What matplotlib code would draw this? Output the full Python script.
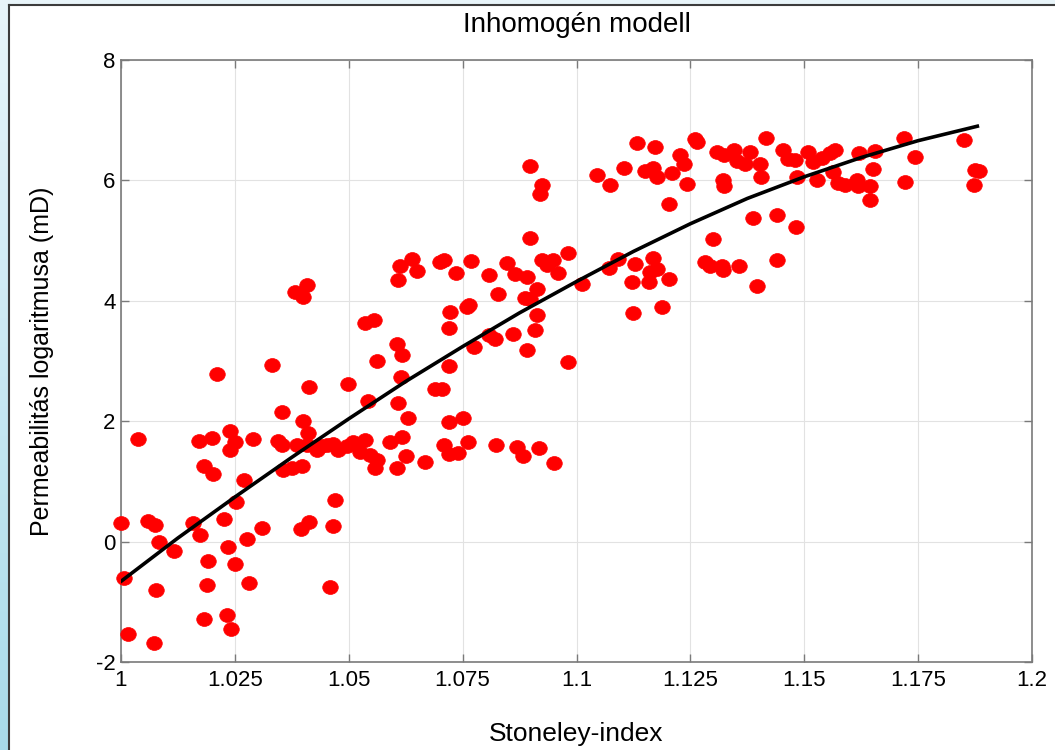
import numpy as np
import matplotlib.pyplot as plt
from matplotlib.markers import MarkerStyle
from matplotlib.transforms import Affine2D
from matplotlib.lines import Line2D

plt.rcParams['font.family'] = ['Liberation Sans', 'DejaVu Sans']
plt.rcParams['axes.unicode_minus'] = False

# Stoneley-index vs. log permeability (mD), measured samples
stoneley = [
    1.0001, 1.0007, 1.0038, 1.0016, 1.0059, 1.0075, 1.0084, 1.0116, 1.0076, 1.0072,
    1.0159, 1.0173, 1.0171, 1.0199, 1.0182, 1.0201, 1.0190, 1.0188, 1.0183, 1.0210,
    1.0239, 1.0250, 1.0239, 1.0226, 1.0234, 1.0250, 1.0232, 1.0242, 1.0270, 1.0252,
    1.0290, 1.0277, 1.0280, 1.0310,
    1.0332, 1.0353, 1.0413, 1.0499, 1.0400, 1.0410, 1.0345, 1.0353, 1.0355, 1.0375,
    1.0397, 1.0386, 1.0408, 1.0430, 1.0452, 1.0477, 1.0496, 1.0510, 1.0413, 1.0395,
    1.0470, 1.0466, 1.0459, 1.0525, 1.0382, 1.0408, 1.0399, 1.0536, 1.0556, 1.0563,
    1.0542, 1.0536, 1.0547, 1.0561, 1.0558, 1.0440, 1.0465,
    1.0607, 1.0616, 1.0614, 1.0609, 1.0631, 1.0591, 1.0616, 1.0626, 1.0607, 1.0667,
    1.0613, 1.0638, 1.0649, 1.0609, 1.0700, 1.0709, 1.0735, 1.0768, 1.0808, 1.0847,
    1.0865, 1.0892, 1.0924, 1.0949, 1.0935, 1.0960, 1.0982, 1.1013, 1.0828, 1.0887,
    1.0898, 1.0914, 1.0913, 1.0909, 1.0891, 1.0861, 1.0808, 1.0821, 1.0774, 1.0759,
    1.0763, 1.0722, 1.0719, 1.0721, 1.0982, 1.0689, 1.0704, 1.0719, 1.0751, 1.0709,
    1.0719, 1.0740, 1.0762, 1.0823, 1.0869, 1.0883, 1.0918, 1.0951, 1.0898, 1.0924,
    1.0919, 1.0898,
    1.1046, 1.1074, 1.1105, 1.1132, 1.1172, 1.1150, 1.1167, 1.1176, 1.1209, 1.1227,
    1.1236, 1.1243, 1.1260, 1.1264, 1.1204, 1.1308, 1.1323, 1.1345, 1.1352, 1.1370,
    1.1381, 1.1403, 1.1404, 1.1321, 1.1324, 1.1415, 1.1454, 1.1465, 1.1480, 1.1483,
    1.1509, 1.1520, 1.1538, 1.1557, 1.1568, 1.1527, 1.1564, 1.1575, 1.1388, 1.1440,
    1.1481, 1.1299, 1.1282, 1.1293, 1.1319, 1.1322, 1.1357, 1.1441, 1.1397, 1.1092,
    1.1072, 1.1128, 1.1167, 1.1176, 1.1161, 1.1121, 1.1160, 1.1204, 1.1125, 1.1188,
    1.1590, 1.1615, 1.1619, 1.1644, 1.1621, 1.1655, 1.1652, 1.1644, 1.1718, 1.1743,
    1.1721, 1.1851, 1.1875, 1.1884, 1.1873,
]
log_perm = [
    0.31, -0.60, 1.70, -1.53, 0.35, 0.28, 0.00, -0.15, -0.80, -1.68,
    0.31, 0.11, 1.67, 1.72, 1.26, 1.13, -0.32, -0.72, -1.28, 2.78,
    1.83, 1.66, 1.52, 0.37, -0.09, -0.37, -1.22, -1.46, 1.02, 0.66,
    1.70, 0.05, -0.68, 0.23,
    2.93, 2.16, 2.56, 2.62, 2.00, 1.80, 1.67, 1.60, 1.19, 1.22,
    1.26, 1.60, 1.60, 1.52, 1.60, 1.52, 1.58, 1.66, 0.33, 0.21,
    0.69, 0.26, -0.76, 1.49, 4.15, 4.26, 4.06, 3.63, 3.68, 3.00,
    2.34, 1.69, 1.44, 1.36, 1.22, 1.58, 1.62,
    3.29, 3.10, 2.74, 2.31, 2.05, 1.66, 1.73, 1.42, 1.22, 1.33,
    4.57, 4.69, 4.50, 4.35, 4.65, 4.68, 4.47, 4.66, 4.43, 4.63,
    4.44, 4.39, 4.67, 4.68, 4.60, 4.47, 4.80, 4.28, 4.11, 4.04,
    4.03, 4.19, 3.76, 3.51, 3.19, 3.45, 3.43, 3.37, 3.23, 3.90,
    3.93, 3.82, 3.54, 2.92, 2.99, 2.53, 2.53, 1.98, 2.06, 1.60,
    1.46, 1.47, 1.65, 1.60, 1.57, 1.42, 1.55, 1.30, 6.24, 5.92,
    5.77, 5.04,
    6.09, 5.92, 6.21, 6.62, 6.56, 6.16, 6.20, 6.06, 6.13, 6.42,
    6.27, 5.94, 6.68, 6.63, 5.61, 6.48, 6.42, 6.51, 6.32, 6.28,
    6.48, 6.27, 6.05, 6.01, 5.91, 6.70, 6.51, 6.35, 6.34, 6.05,
    6.48, 6.31, 6.37, 6.45, 6.51, 6.01, 6.14, 5.95, 5.37, 5.43,
    5.23, 5.03, 4.65, 4.58, 4.58, 4.51, 4.57, 4.68, 4.25, 4.69,
    4.55, 4.61, 4.71, 4.53, 4.48, 4.31, 4.32, 4.36, 3.79, 3.90,
    5.92, 6.01, 5.91, 5.91, 6.45, 6.49, 6.19, 5.67, 6.70, 6.39,
    5.98, 6.67, 6.17, 6.16, 5.92,
]

# fitted trend line
fit_x = [1.0, 1.0125, 1.025, 1.0375, 1.05, 1.0625, 1.075, 1.0875,
         1.1, 1.1125, 1.125, 1.1375, 1.15, 1.1625, 1.175, 1.188]
fit_y = [-0.66, 0.06, 0.74, 1.40, 2.04, 2.66, 3.24, 3.80,
         4.32, 4.82, 5.28, 5.70, 6.06, 6.38, 6.66, 6.90]

x_ticks = [1, 1.025, 1.05, 1.075, 1.1, 1.125, 1.15, 1.175, 1.2]
x_tick_labels = ['1', '1.025', '1.05', '1.075', '1.1', '1.125', '1.15', '1.175', '1.2']
y_ticks = [-2, 0, 2, 4, 6, 8]

W, H = 1055, 750
fig = plt.figure(figsize=(W / 100, H / 100), dpi=100)

# pale blue slide edge on the left and top
edge_top = np.array([0.91, 0.96, 0.98])
edge_bot = np.array([0.66, 0.86, 0.92])
t = np.linspace(0, 1, H)[:, None]
left_strip = np.repeat((edge_top * (1 - t) + edge_bot * t)[:, None, :], 8, axis=1)
top_strip = np.tile(edge_top, (4, W, 1))
fig.figimage(left_strip, xo=0, yo=0, origin='upper', zorder=-10)
fig.figimage(top_strip, xo=0, yo=H - 4, origin='upper', zorder=-10)
fig.add_artist(Line2D([8.5 / W, 8.5 / W], [0, 1 - 4.5 / H], transform=fig.transFigure,
                      color='#3c3c3c', lw=1.5))
fig.add_artist(Line2D([8.5 / W, 1], [1 - 4.5 / H, 1 - 4.5 / H], transform=fig.transFigure,
                      color='#3c3c3c', lw=1.5))

ax = fig.add_axes([121 / W, 88 / H, 911 / W, 602 / H])
ax.set_facecolor('white')

dot = MarkerStyle('o', transform=Affine2D().scale(1.12, 1.0))
ax.plot(stoneley, log_perm, linestyle='none', marker=dot, ms=10,
        color='#ff0000', mec='#ff0000', mew=0.5, zorder=3, clip_on=False)
ax.plot(fit_x, fit_y, color='black', lw=2.6, zorder=4)

ax.set_xlim(1, 1.2)
ax.set_ylim(-2, 8)
ax.set_xticks(x_ticks)
ax.set_xticklabels(x_tick_labels)
ax.set_yticks(y_ticks)
ax.grid(True, color='#e2e2e2', lw=0.8)
ax.set_axisbelow(True)

for s in ax.spines.values():
    s.set_color('#7a7a7a')
    s.set_linewidth(1.2)
ax.tick_params(direction='in', top=True, right=True, length=5.5, width=1,
               color='#7a7a7a', labelsize=16, labelcolor='black')
ax.tick_params(axis='x', pad=6)
ax.tick_params(axis='y', pad=4)

ax.set_title('Inhomogén modell', fontsize=20, pad=20)
ax.set_xlabel('Stoneley-index', fontsize=19, labelpad=22)
ax.set_ylabel('Permeabilitás logaritmusa (mD)', fontsize=18, labelpad=30)

fig.savefig('out.png', dpi=100)
